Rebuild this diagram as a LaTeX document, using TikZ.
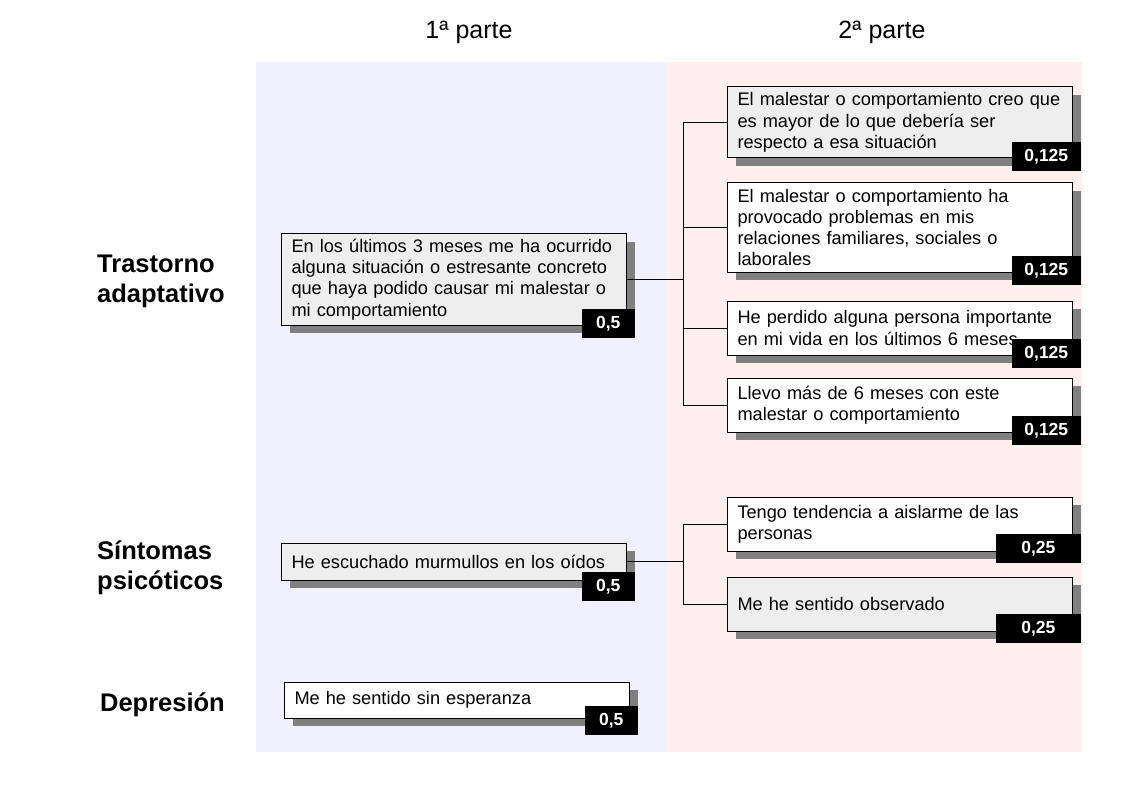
\documentclass[tikz,border=0pt]{standalone}
\usepackage{fontspec}
\setmainfont{Liberation Sans}
\usepackage{tikz}
\usetikzlibrary{calc}
\usetikzlibrary{shadows}
\definecolor{bgblue}{HTML}{F0F0FF}
\definecolor{bgpink}{HTML}{FFF0F0}
\definecolor{boxgray}{HTML}{EEEEEE}
\definecolor{shadowgray}{HTML}{808080}
\tikzset{%
  myitem/.style={rectangle, draw=black, line width=1pt, fill=white, anchor=west,
    text width=325pt, inner xsep=10pt, inner ysep=0pt, align=left,
    font=\fontsize{18.2}{21.3}\selectfont,
    drop shadow={shadow xshift=8pt, shadow yshift=-8pt, fill=shadowgray, opacity=1}},
  mygray/.style={myitem, fill=boxgray},
  mytag/.style={fill=black, text=white, inner sep=0pt, minimum height=29pt,
    anchor=south east, font=\bfseries\fontsize{17.5}{17.5}\selectfont},
  mytitle/.style={font=\fontsize{25}{30}\selectfont},
  mylabel/.style={align=left, inner sep=0pt, font=\bfseries\fontsize{25.5}{30}\selectfont},
  myedge/.style={line width=1pt}
}
\begin{document}
\begin{tikzpicture}[x=1pt,y=-1pt]
  \useasboundingbox (0,0) rectangle (1123,794);
  \fill[bgblue] (256,62) rectangle (666,752);
  \fill[bgpink] (666,62) rectangle (1082,752);
  \node[mytitle] (p1) at (469,32) {1ª parte};
  \node[mytitle] (p2) at (882,32) {2ª parte};
  \node[mylabel, anchor=west] (l1) at (97,281) {Trastorno\\adaptativo};
  \node[mylabel, anchor=west] (l2) at (97,567.5) {Síntomas\\psicóticos};
  \node[mylabel, anchor=east] (l3) at (225,705) {Depresión};
  \node[mygray, minimum height=91pt] (a1) at (281,279.5) {En los últimos 3 meses me ha ocurrido\\alguna situación o estresante concreto\\que haya podido causar mi malestar o\\mi comportamiento};
  \node[mygray, minimum height=71pt] (b1) at (727,122.5) {El malestar o comportamiento creo que\\es mayor de lo que debería ser\\respecto a esa situación};
  \node[myitem, minimum height=89pt] (b2) at (727,227.5) {El malestar o comportamiento ha\\provocado problemas en mis\\relaciones familiares, sociales o\\laborales};
  \node[myitem, minimum height=54pt] (b3) at (727,328) {He perdido alguna persona importante\\en mi vida en los últimos 6 meses};
  \node[myitem, minimum height=54pt] (b4) at (727,405) {Llevo más de 6 meses con este\\malestar o comportamiento};
  \node[mygray, minimum height=37pt] (a2) at (281,561.5) {He escuchado murmullos en los oídos};
  \node[myitem, minimum height=54pt] (c1) at (727,524) {Tengo tendencia a aislarme de las\\personas};
  \node[mygray, minimum height=54pt] (c2) at (727,604) {Me he sentido observado};
  \node[myitem, minimum height=36pt] (a3) at (284,700) {Me he sentido sin esperanza};
  \node[mytag, minimum width=53pt] (ta1) at ($(a1.south east)+(8,13)$) {0,5};
  \node[mytag, minimum width=53pt] (ta2) at ($(a2.south east)+(8,21)$) {0,5};
  \node[mytag, minimum width=53pt] (ta3) at ($(a3.south east)+(8,17)$) {0,5};
  \foreach \n in {b1,b2,b3,b4}
    \node[mytag, minimum width=69pt] (t\n) at ($(\n.south east)+(8,13)$) {0,125};
  \foreach \n in {c1,c2}
    \node[mytag, minimum width=85pt] (t\n) at ($(\n.south east)+(8,12)$) {0,25};
  \coordinate (ja) at ($(a1.east)+(56,0)$);
  \coordinate (jb) at ($(a2.east)+(56,0)$);
  \draw[myedge] (a1.east) -- (ja);
  \draw[myedge] (a2.east) -- (jb);
  \foreach \n in {b1,b2,b3,b4}
    \draw[myedge] (ja) |- (\n.west);
  \foreach \n in {c1,c2}
    \draw[myedge] (jb) |- (\n.west);
\end{tikzpicture}
\end{document}
